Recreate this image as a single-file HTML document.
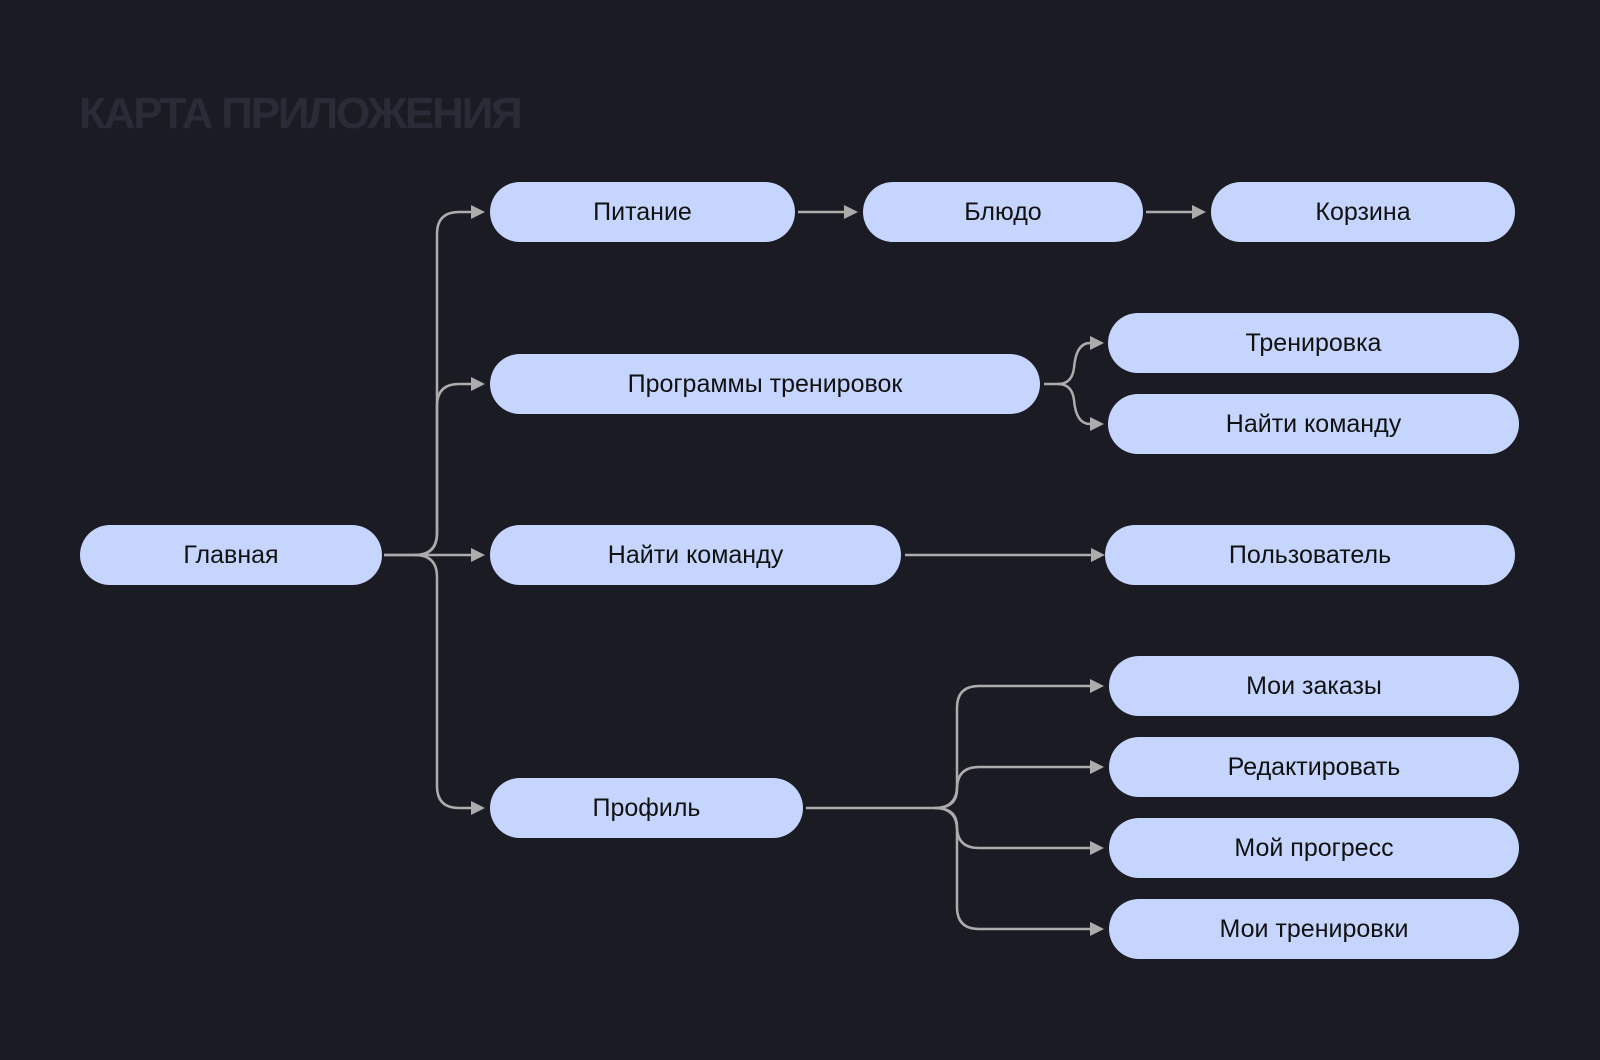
<!DOCTYPE html>
<html><head><meta charset="utf-8"><style>
html,body{margin:0;padding:0;background:#1b1b24;}
body{width:1600px;height:1060px;position:relative;overflow:hidden;font-family:"Liberation Sans","DejaVu Sans",sans-serif;}
.t{position:absolute;left:79px;top:89px;font-size:44px;font-weight:bold;color:#2a2b37;white-space:nowrap;letter-spacing:-2.2px}
.b{position:absolute;height:60px;border-radius:30px;background:#c5d5fd;color:#111;font-size:25px;display:flex;align-items:center;justify-content:center;white-space:nowrap}
svg{position:absolute;left:0;top:0}
</style></head><body>
<div class="t">КАРТА ПРИЛОЖЕНИЯ</div>
<svg width="1600" height="1060" fill="none" stroke="#acacac" stroke-width="2.5">
<defs><marker id="a" markerWidth="14" markerHeight="14" refX="0" refY="7" orient="auto" markerUnits="userSpaceOnUse"><path d="M0,0 L14,7 L0,14Z" fill="#acacac" stroke="none"/></marker></defs>
<path d="M384 555 H415 Q437 555 437 533 V234 Q437 212 459 212 H471" marker-end="url(#a)"/>
<path d="M415 555 Q437 555 437 533 V406 Q437 384 459 384 H471" marker-end="url(#a)"/>
<path d="M384 555 H471" marker-end="url(#a)"/>
<path d="M415 555 Q437 555 437 577 V786 Q437 808 459 808 H471" marker-end="url(#a)"/>
<path d="M798 212 H844" marker-end="url(#a)"/>
<path d="M1146 212 H1192" marker-end="url(#a)"/>
<path d="M1044 384 H1058 Q1072 384 1074 368 Q1076 343 1090 343" marker-end="url(#a)"/>
<path d="M1058 384 Q1072 384 1074 400 Q1076 424 1090 424" marker-end="url(#a)"/>
<path d="M905 555 H1091" marker-end="url(#a)"/>
<path d="M806 808 H935 Q957 808 957 786 V708 Q957 686 979 686 H1090" marker-end="url(#a)"/>
<path d="M935 808 Q957 808 957 789 Q957 767 979 767 H1090" marker-end="url(#a)"/>
<path d="M935 808 Q957 808 957 827 Q957 848 979 848 H1090" marker-end="url(#a)"/>
<path d="M935 808 Q957 808 957 830 V907 Q957 929 979 929 H1090" marker-end="url(#a)"/>
</svg>
<div class="b" style="left:80px;top:525px;width:302px">Главная</div>
<div class="b" style="left:490px;top:182px;width:305px">Питание</div>
<div class="b" style="left:863px;top:182px;width:280px">Блюдо</div>
<div class="b" style="left:1211px;top:182px;width:304px">Корзина</div>
<div class="b" style="left:490px;top:354px;width:550px">Программы тренировок</div>
<div class="b" style="left:1108px;top:313px;width:411px">Тренировка</div>
<div class="b" style="left:1108px;top:394px;width:411px">Найти команду</div>
<div class="b" style="left:490px;top:525px;width:411px">Найти команду</div>
<div class="b" style="left:1105px;top:525px;width:410px">Пользователь</div>
<div class="b" style="left:490px;top:778px;width:313px">Профиль</div>
<div class="b" style="left:1109px;top:656px;width:410px">Мои заказы</div>
<div class="b" style="left:1109px;top:737px;width:410px">Редактировать</div>
<div class="b" style="left:1109px;top:818px;width:410px">Мой прогресс</div>
<div class="b" style="left:1109px;top:899px;width:410px">Мои тренировки</div>
</body></html>
